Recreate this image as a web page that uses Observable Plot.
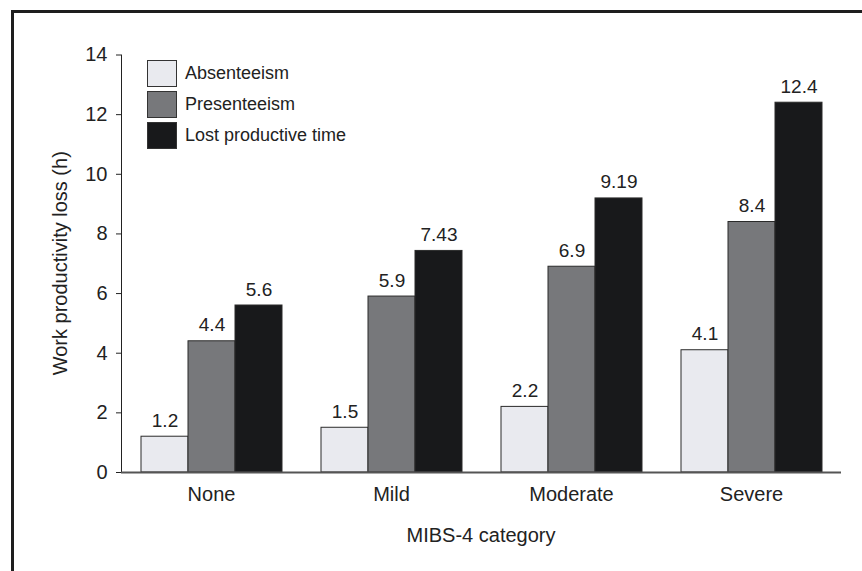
<!DOCTYPE html>
<html>
<head>
<meta charset="utf-8">
<script src="https://cdn.jsdelivr.net/npm/d3@7"></script>
<script src="https://cdn.jsdelivr.net/npm/@observablehq/plot@0.6"></script>
<style>
  html, body { margin: 0; padding: 0; background: #fff; }
  #wrap { position: relative; width: 862px; height: 571px; overflow: hidden; font-family: "Liberation Sans", Arial, sans-serif; }
  #border { position: absolute; left: 11px; top: 10px; width: 900px; height: 600px; border-top: 3px solid #1e1e1e; border-left: 3px solid #1e1e1e; box-sizing: border-box; pointer-events: none; }
  #legend { position: absolute; left: 147px; top: 60px; }
  .item { display: flex; align-items: center; height: 27px; margin-bottom: 4px; }
  .sw { width: 30px; height: 27px; box-sizing: border-box; border: 1px solid #333; margin-right: 8px; }
  .lab { font-size: 18px; color: #222; }
</style>
</head>
<body>
<div id="wrap">
  <div id="chart"></div>
  <div id="legend"></div>
  <div id="border"></div>
</div>
<script>
const categories = ["None", "Mild", "Moderate", "Severe"];
const series = ["Absenteeism", "Presenteeism", "Lost productive time"];
const absenteeism = [1.2, 1.5, 2.2, 4.1];
const presenteeism = [4.4, 5.9, 6.9, 8.4];
const lostTime = [5.6, 7.43, 9.19, 12.4];
const valueLabels = [
  ["1.2", "4.4", "5.6"],
  ["1.5", "5.9", "7.43"],
  ["2.2", "6.9", "9.19"],
  ["4.1", "8.4", "12.4"]
];
const yTicks = [0, 2, 4, 6, 8, 10, 12, 14];
const colors = ["#e9eaef", "#77787b", "#18191b"];
const yTitle = "Work productivity loss (h)";
const xTitle = "MIBS-4 category";

const seriesValues = [absenteeism, presenteeism, lostTime];
const data = categories.flatMap((c, i) =>
  series.map((s, j) => ({category: c, series: s, value: seriesValues[j][i], label: valueLabels[i][j]}))
);

const W = 862, H = 571, ML = 121, MR = 21, MT = 54.5, MB = 99;

const chart = Plot.plot({
  width: W, height: H,
  marginLeft: ML, marginRight: MR, marginTop: MT, marginBottom: MB,
  style: {fontFamily: "Liberation Sans, Arial, sans-serif", fontSize: "20px", color: "#222", background: "transparent"},
  fx: {domain: categories, padding: 0, label: null},
  x: {domain: series, paddingInner: 0, paddingOuter: 0.4015, axis: null},
  y: {domain: [0, 14], ticks: yTicks, label: null, line: true, tickSize: 5, tickPadding: 9},
  color: {domain: series, range: colors},
  marks: [
    Plot.axisFx({anchor: "bottom", tickSize: 0, tickPadding: 14, label: null, fontSize: 20}),
    Plot.barY(data, {fx: "category", x: "series", y: "value", fill: "series", stroke: "#2a2a2a", strokeWidth: 1}),
    Plot.ruleY([0], {stroke: "#555", strokeWidth: 2}),
    Plot.text(data, {fx: "category", x: "series", y: "value", text: "label", dy: -10, lineAnchor: "bottom", fontSize: 19, fill: "#222"})
  ]
});
document.getElementById("chart").appendChild(chart);

const svg = d3.select(chart);
svg.append("text")
  .attr("transform", `translate(67,${(MT + H - MB) / 2}) rotate(-90)`)
  .attr("text-anchor", "middle")
  .attr("font-size", 20)
  .attr("fill", "#222")
  .text(yTitle);
svg.append("text")
  .attr("x", (ML + W - MR) / 2)
  .attr("y", 542)
  .attr("text-anchor", "middle")
  .attr("font-size", 20)
  .attr("fill", "#222")
  .text(xTitle);

const legend = d3.select("#legend");
series.forEach((s, i) => {
  const item = legend.append("div").attr("class", "item");
  item.append("div").attr("class", "sw").style("background", colors[i]);
  item.append("div").attr("class", "lab").text(s);
});
</script>
</body>
</html>
